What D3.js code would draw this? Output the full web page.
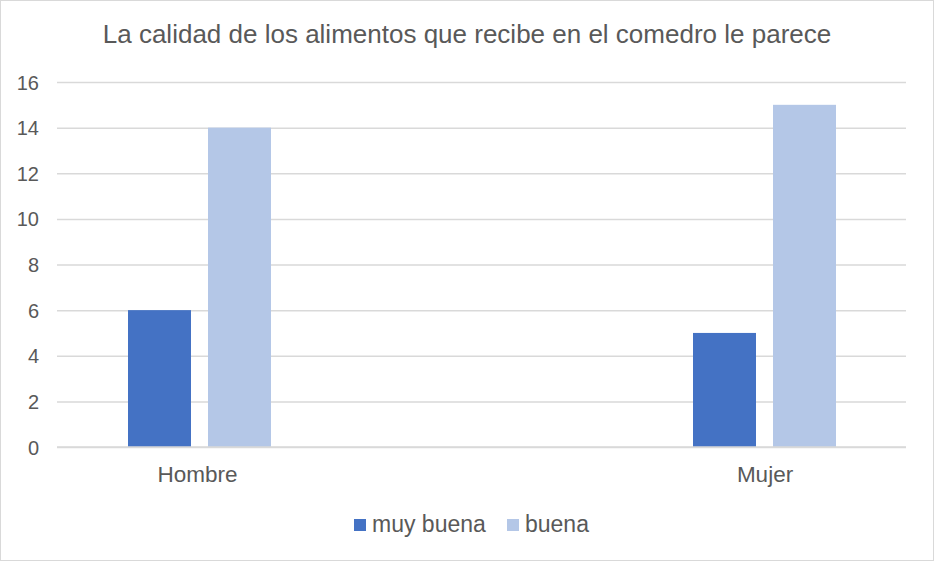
<!DOCTYPE html>
<html>
<head>
<meta charset="utf-8">
<script src="https://cdn.jsdelivr.net/npm/d3@7"></script>
<style>
  body { margin: 0; background: #fff; }
  text { font-family: "Liberation Sans", Arial, sans-serif; fill: #595959; }
</style>
</head>
<body>
<div id="wrapper"></div>
<script>
/* DATA */
const categories = ['Hombre', 'Mujer'];
const seriesNames = ['muy buena', 'buena'];
const muyBuena = [6, 5];
const buena = [14, 15];
const yTicks = [0, 2, 4, 6, 8, 10, 12, 14, 16];
const title = 'La calidad de los alimentos que recibe en el comedro le parece';

const colors = ['#4472c4', '#b4c7e7'];
const values = [muyBuena, buena];

/* DIMENSIONS */
const width = 934;
const height = 561;
const plot = { left: 57, right: 906, top: 82, bottom: 447 };

const svg = d3.select('#wrapper')
  .append('svg')
  .attr('width', width)
  .attr('height', height);

svg.append('rect')
  .attr('x', 0.5).attr('y', 0.5)
  .attr('width', width - 1).attr('height', height - 1)
  .attr('fill', '#fff')
  .attr('stroke', '#d9d9d9');

/* SCALES */
const yScale = d3.scaleLinear()
  .domain([0, 16])
  .range([plot.bottom, plot.top]);

const xScale = d3.scalePoint()
  .domain(categories)
  .range([199.5, 764.5]);

const subScale = d3.scaleBand()
  .domain(seriesNames)
  .range([-71.5, 71.5])
  .paddingInner(0.2125);

/* GRID + Y AXIS */
const yAxis = d3.axisLeft(yScale)
  .tickValues(yTicks)
  .tickSize(-(plot.right - plot.left))
  .tickPadding(18);

const yAxisGroup = svg.append('g')
  .attr('transform', `translate(${plot.left},0)`)
  .call(yAxis);
yAxisGroup.select('.domain').remove();
yAxisGroup.selectAll('.tick line')
  .attr('stroke', '#d9d9d9')
  .attr('stroke-width', 1.5);
yAxisGroup.selectAll('.tick text')
  .attr('font-size', 20)
  .attr('fill', '#595959')
  .attr('dy', '0.35em');

/* BARS */
seriesNames.forEach((name, si) => {
  svg.append('g')
    .selectAll('rect')
    .data(categories)
    .join('rect')
    .attr('x', d => xScale(d) + subScale(name))
    .attr('y', (d, i) => yScale(values[si][i]))
    .attr('width', subScale.bandwidth())
    .attr('height', (d, i) => yScale(0) - yScale(values[si][i]))
    .attr('fill', colors[si]);
});

/* X AXIS */
const xAxis = d3.axisBottom(xScale).tickSize(0).tickPadding(0);
const xAxisGroup = svg.append('g')
  .attr('transform', `translate(0,${plot.bottom})`)
  .call(xAxis);
xAxisGroup.select('.domain').remove();
svg.append('line')
  .attr('x1', plot.left).attr('x2', plot.right)
  .attr('y1', plot.bottom).attr('y2', plot.bottom)
  .attr('stroke', '#d9d9d9')
  .attr('stroke-width', 1.5);
xAxisGroup.selectAll('.tick text')
  .attr('font-size', 22.5)
  .attr('fill', '#595959')
  .attr('x', (d, i) => (i === 0 ? -2.5 : 0))
  .attr('y', 35)
  .attr('dy', 0);

/* TITLE */
svg.append('text')
  .attr('x', 467)
  .attr('y', 43)
  .attr('text-anchor', 'middle')
  .attr('font-size', 26)
  .text(title);

/* LEGEND */
const legendX = [354, 507];
const legend = svg.append('g');
seriesNames.forEach((name, i) => {
  legend.append('rect')
    .attr('x', legendX[i]).attr('y', 519)
    .attr('width', 12).attr('height', 12)
    .attr('fill', colors[i]);
  legend.append('text')
    .attr('x', legendX[i] + 18)
    .attr('y', 532)
    .attr('font-size', 23)
    .text(name);
});
</script>
</body>
</html>
